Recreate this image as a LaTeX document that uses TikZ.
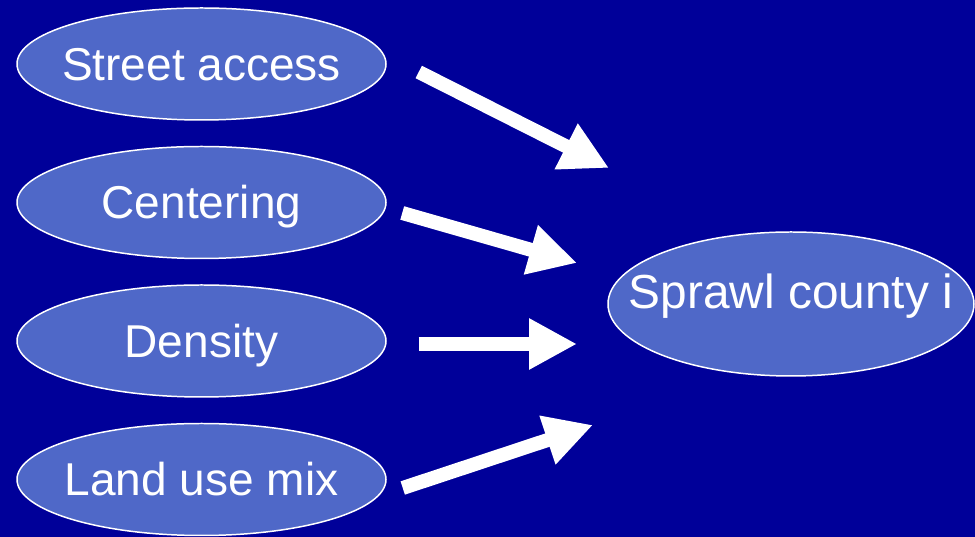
\documentclass[tikz,border=0pt]{standalone}
\usepackage{fontspec}
\setmainfont{Liberation Sans}
\usetikzlibrary{shapes.geometric,arrows.meta}
\definecolor{bgblue}{HTML}{000099}
\definecolor{ovalblue}{HTML}{4F68C8}
\tikzset{
	factor/.style={ellipse,draw=white,line width=0.85pt,fill=ovalblue,text=white,inner sep=0pt,
		minimum width=7.38cm,minimum height=2.24cm,text height=0.66cm,text depth=0cm,
		font=\fontsize{26.2}{30}\selectfont},
	bigarrow/.style={white,line width=0.28cm,-{Triangle[width=0.96cm,length=0.96cm]}}
}
\begin{document}
\begin{tikzpicture}[line cap=butt,line join=miter,x=1.0cm,y=1.0cm]
	\clip(0,0) rectangle (19.5,10.74);
	\fill[bgblue] (0,0) rectangle (19.5,10.74);
	\node[factor] (street) at (4.03,9.46) {\makebox[0pt]{Street access}};
	\node[factor] (centering) at (4.03,6.69) {\makebox[0pt]{Centering}};
	\node[factor] (density) at (4.03,3.92) {\makebox[0pt]{Density}};
	\node[factor] (landuse) at (4.03,1.15) {\makebox[0pt]{Land use mix}};
	\node[factor,minimum width=7.32cm,minimum height=2.88cm,text height=0.68cm,text depth=0.5cm,
		font=\fontsize{27.2}{31}\selectfont] (sprawl) at (15.82,4.66) {\makebox[0pt]{Sprawl county i}};
	\coordinate (tip1) at (12.18,7.38);
	\coordinate (tip2) at (11.54,5.48);
	\coordinate (tip3) at (11.54,3.86);
	\coordinate (tip4) at (11.86,2.24);
	\draw [bigarrow] ([shift={(0.64,-0.16)}]street.east) -- (tip1);
	\draw [bigarrow] ([shift={(0.31,-0.21)}]centering.east) -- (tip2);
	\draw [bigarrow] ([shift={(0.64,-0.06)}]density.east) -- (tip3);
	\draw [bigarrow] ([shift={(0.32,-0.17)}]landuse.east) -- (tip4);
\end{tikzpicture}
\end{document}
